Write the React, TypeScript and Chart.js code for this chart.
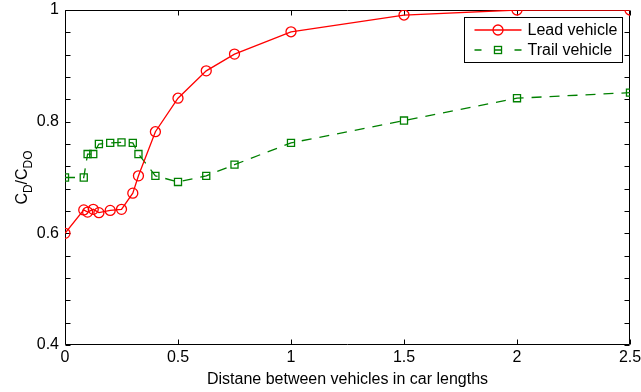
import React, { useEffect, useRef } from 'react';
import { Chart, registerables } from 'chart.js';

Chart.register(...registerables);

// ---- data ----
const distances = [0, 0.083, 0.1, 0.125, 0.15, 0.2, 0.25, 0.3, 0.325, 0.4, 0.5, 0.625, 0.75, 1, 1.5, 2, 2.5];
const leadCd = [0.6, 0.642, 0.638, 0.643, 0.637, 0.641, 0.643, 0.672, 0.703, 0.782, 0.842, 0.891, 0.921, 0.961, 0.991, 1.0, 1.0];
const trailCd = [0.7, 0.7, 0.742, 0.742, 0.76, 0.762, 0.763, 0.762, 0.742, 0.703, 0.692, 0.703, 0.723, 0.762, 0.802, 0.842, 0.852];
const seriesNames = ['Lead vehicle', 'Trail vehicle'];
const xTickValues = [0, 0.5, 1, 1.5, 2, 2.5];
const yLabelledTicks = [0.4, 0.6, 0.8, 1];
const yTickStep = 0.04;
const xTitle = 'Distane between vehicles in car lengths';
const yTitleParts = [
  { text: 'C', sub: false },
  { text: 'D', sub: true },
  { text: '/C', sub: false },
  { text: 'DO', sub: true },
];

const FONT = '"Liberation Sans", Arial, Helvetica, sans-serif';
const RED = '#ff0000';
const GREEN = '#008000';

const framePlugin = {
  id: 'frameTicks',
  beforeDatasetsDraw(chart: any) {
    const { ctx, chartArea } = chart;
    const { left, right, top, bottom } = chartArea;
    const xs = chart.scales.x;
    const ys = chart.scales.y;
    ctx.save();
    ctx.strokeStyle = '#000';
    ctx.lineWidth = 1;
    ctx.beginPath();
    const L = Math.round(left) + 0.5;
    const R = Math.round(right) - 0.5;
    const T = Math.round(top) + 0.5;
    const B = Math.round(bottom) - 0.5;
    ctx.rect(L, T, R - L, B - T);
    const tl = 5;
    xTickValues.forEach((v) => {
      const px = Math.round(xs.getPixelForValue(v)) + 0.5;
      ctx.moveTo(px, B);
      ctx.lineTo(px, B - tl);
      ctx.moveTo(px, T);
      ctx.lineTo(px, T + tl);
    });
    const n = Math.round((ys.max - ys.min) / yTickStep);
    for (let i = 0; i <= n; i++) {
      const v = ys.min + i * yTickStep;
      const py = Math.round(ys.getPixelForValue(v)) + 0.5;
      ctx.moveTo(L, py);
      ctx.lineTo(L + tl, py);
      ctx.moveTo(R, py);
      ctx.lineTo(R - tl, py);
    }
    ctx.stroke();
    ctx.restore();
  },
  afterDraw(chart: any) {
    const { ctx, chartArea } = chart;
    const { right, top, bottom } = chartArea;
    ctx.save();
    // ---- y axis title with subscripts ----
    const mainFont = `16px ${FONT}`;
    const subFont = `12px ${FONT}`;
    let total = 0;
    const widths = yTitleParts.map((p) => {
      ctx.font = p.sub ? subFont : mainFont;
      const w = ctx.measureText(p.text).width;
      total += w;
      return w;
    });
    const cy = (top + bottom) / 2;
    const cx = 27;
    ctx.translate(cx, cy);
    ctx.rotate(-Math.PI / 2);
    ctx.fillStyle = '#000';
    ctx.textBaseline = 'alphabetic';
    ctx.textAlign = 'left';
    let x = -total / 2;
    yTitleParts.forEach((p, i) => {
      ctx.font = p.sub ? subFont : mainFont;
      ctx.fillText(p.text, x, p.sub ? 5 : 0);
      x += widths[i];
    });
    ctx.restore();

    // ---- legend ----
    ctx.save();
    const boxW = 158;
    const boxH = 45;
    const bx = Math.round(right) - 8 - boxW + 0.5;
    const by = Math.round(top) + 7 + 0.5;
    ctx.fillStyle = '#fff';
    ctx.fillRect(bx, by, boxW, boxH);
    ctx.strokeStyle = '#000';
    ctx.lineWidth = 1;
    ctx.strokeRect(bx, by, boxW, boxH);
    const lx0 = bx + 10;
    const lx1 = bx + 57;
    const mx = (lx0 + lx1) / 2;
    const r1 = by + 12.5;
    const r2 = by + 32.5;
    // row 1
    ctx.strokeStyle = RED;
    ctx.lineWidth = 1.3;
    ctx.beginPath();
    ctx.moveTo(lx0, r1);
    ctx.lineTo(lx1, r1);
    ctx.stroke();
    ctx.beginPath();
    ctx.arc(mx, r1, 5, 0, Math.PI * 2);
    ctx.stroke();
    // row 2
    ctx.strokeStyle = GREEN;
    ctx.beginPath();
    ctx.moveTo(lx0, r2);
    ctx.lineTo(lx0 + 7, r2);
    ctx.moveTo(mx - 4, r2);
    ctx.lineTo(mx + 4, r2);
    ctx.moveTo(lx1 - 7, r2);
    ctx.lineTo(lx1, r2);
    ctx.stroke();
    const s = 5 * Math.SQRT1_2;
    ctx.strokeRect(mx - s, r2 - s, 2 * s, 2 * s);
    ctx.fillStyle = '#000';
    ctx.font = `16px ${FONT}`;
    ctx.textBaseline = 'middle';
    ctx.textAlign = 'left';
    ctx.fillText(seriesNames[0], lx1 + 6, r1 + 1);
    ctx.fillText(seriesNames[1], lx1 + 6, r2 + 1);
    ctx.restore();
  },
};

export default function App() {
  const canvasRef = useRef<HTMLCanvasElement | null>(null);

  useEffect(() => {
    document.body.style.margin = '0';
    const canvas = canvasRef.current;
    if (!canvas) return;
    const chart = new Chart(canvas, {
      type: 'scatter',
      data: {
        datasets: [
          {
            label: seriesNames[0],
            data: distances.map((d, i) => ({ x: d, y: leadCd[i] })),
            showLine: true,
            borderColor: RED,
            borderWidth: 1.3,
            pointStyle: 'circle',
            pointRadius: 5,
            pointBorderWidth: 1.3,
            pointBorderColor: RED,
            pointBackgroundColor: 'rgba(0,0,0,0)',
            tension: 0,
          },
          {
            label: seriesNames[1],
            data: distances.map((d, i) => ({ x: d, y: trailCd[i] })),
            showLine: true,
            borderColor: GREEN,
            borderWidth: 1.3,
            borderDash: [10, 8],
            pointStyle: 'rect',
            pointRadius: 5,
            pointBorderWidth: 1.3,
            pointBorderColor: GREEN,
            pointBackgroundColor: 'rgba(0,0,0,0)',
            tension: 0,
          },
        ],
      },
      options: {
        responsive: false,
        maintainAspectRatio: false,
        devicePixelRatio: 1,
        animation: false,
        layout: { padding: { left: 0, right: 11, top: 10, bottom: 0 } },
        plugins: {
          legend: { display: false },
          tooltip: { enabled: false },
          title: { display: false },
        },
        scales: {
          x: {
            type: 'linear',
            min: 0,
            max: 2.5,
            grid: { display: false, drawTicks: false },
            border: { display: false },
            afterBuildTicks: (scale: any) => {
              scale.ticks = xTickValues.map((v) => ({ value: v }));
            },
            ticks: {
              color: '#000',
              font: { family: FONT, size: 16 },
              padding: 3,
              maxRotation: 0,
              autoSkip: false,
              callback: (v: any) => String(v),
            },
            title: {
              display: true,
              text: xTitle,
              color: '#000',
              font: { family: FONT, size: 16 },
              padding: { top: 3, bottom: 3 },
            },
            afterFit: (scale: any) => {
              scale.height = 47;
              scale.paddingLeft = 0;
              scale.paddingRight = 0;
            },
          },
          y: {
            type: 'linear',
            min: 0.4,
            max: 1,
            grid: { display: false, drawTicks: false },
            border: { display: false },
            afterBuildTicks: (scale: any) => {
              scale.ticks = yLabelledTicks.map((v) => ({ value: v }));
            },
            ticks: {
              color: '#000',
              font: { family: FONT, size: 16 },
              padding: 6,
              autoSkip: false,
              callback: (v: any) => String(Math.round(Number(v) * 10) / 10),
            },
            afterFit: (scale: any) => {
              scale.width = 65;
              scale.paddingTop = 0;
              scale.paddingBottom = 0;
            },
          },
        },
      },
      plugins: [framePlugin],
    } as any);
    return () => chart.destroy();
  }, []);

  return (
    <div style={{ width: 641, height: 392, background: '#fff' }}>
      <canvas ref={canvasRef} width={641} height={392} style={{ display: 'block' }} />
    </div>
  );
}
